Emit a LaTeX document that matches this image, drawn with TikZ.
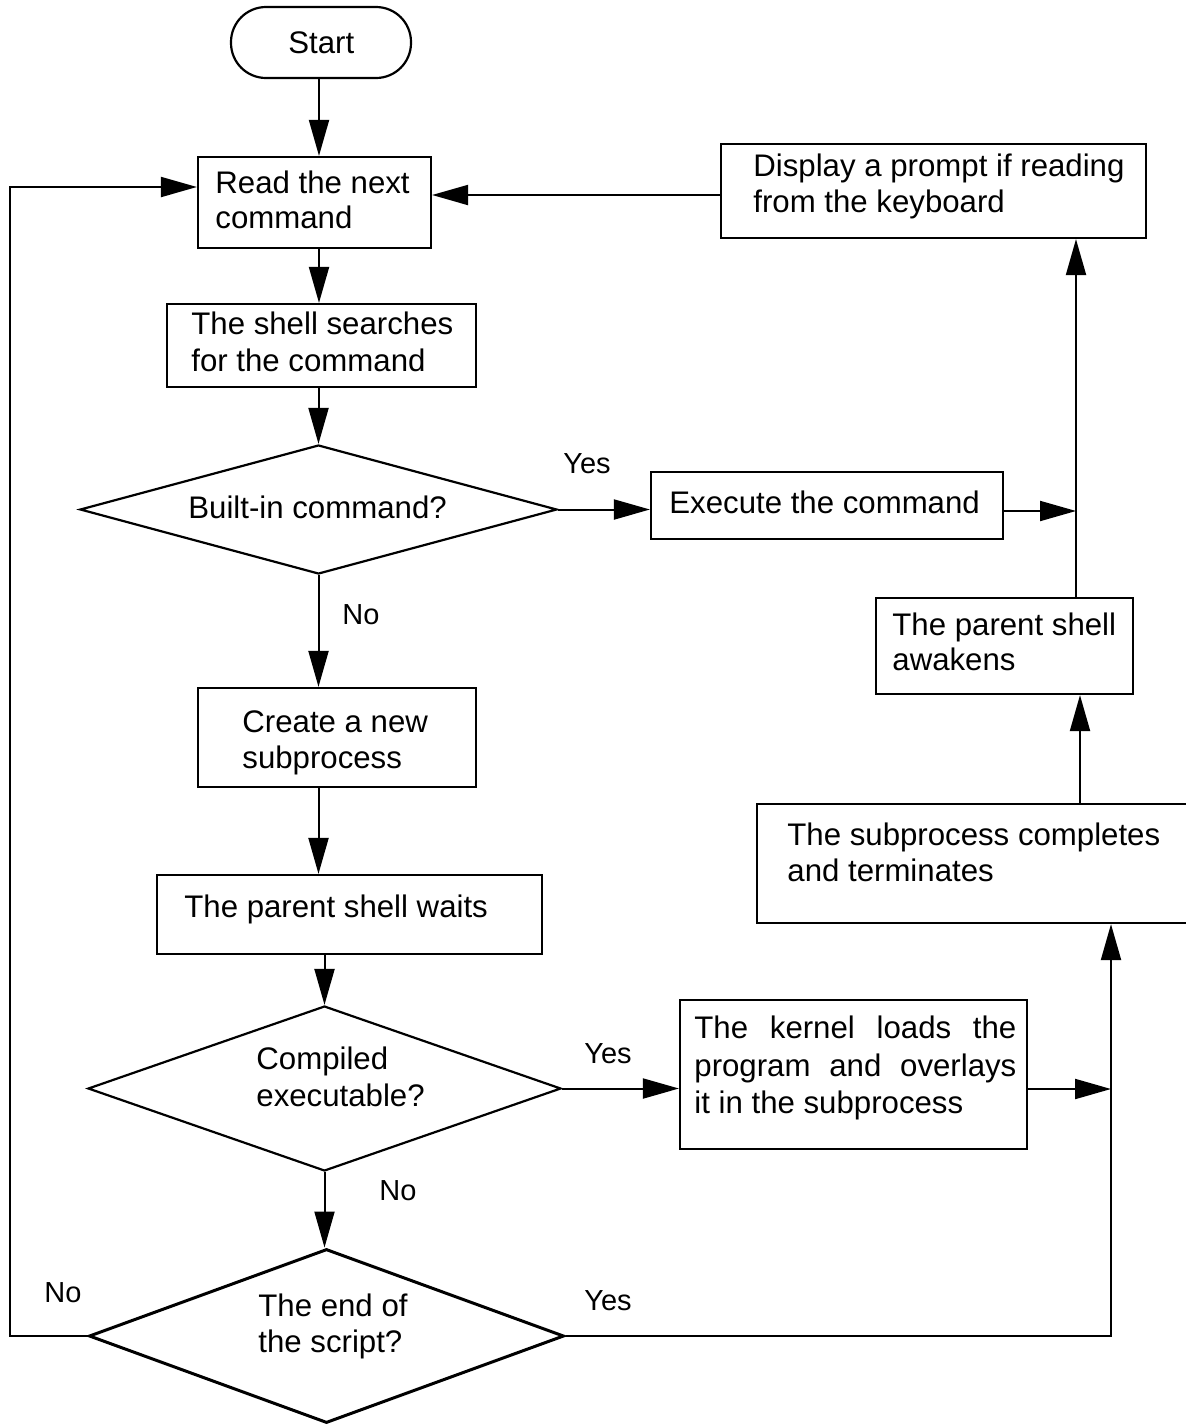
\documentclass[tikz,border=0pt]{standalone}
\usepackage{fontspec}
\setmainfont{Liberation Sans}
\usetikzlibrary{shapes.geometric,arrows.meta}
\begin{document}
\begin{tikzpicture}[x=0.5pt,y=-0.5pt,
  box/.style={draw,line width=1.1pt,inner sep=0pt,rectangle},
  dec/.style={draw,line width=1.1pt,diamond,inner sep=0pt},
  arr/.style={line width=1pt,-{Triangle[length=18pt,width=10pt]}},
  txt/.style={anchor=base west,inner sep=0pt,font=\fontsize{15.6pt}{18pt}\selectfont},
  lab/.style={anchor=base west,inner sep=0pt,font=\fontsize{14.5pt}{17pt}\selectfont}]
\useasboundingbox (0,0) rectangle (1186,1425);
\fill[white] (0,0) rectangle (1186,1425);

% shapes
\node[box,rounded corners=17.5pt,minimum width=90pt,minimum height=35.5pt] (start) at (321,42.5) {};
\node[box,minimum width=116.5pt,minimum height=45.5pt] (read) at (314.5,202.5) {};
\node[box,minimum width=154.5pt,minimum height=41.5pt] (shell) at (321.5,345.5) {};
\node[box,minimum width=212.5pt,minimum height=47pt] (display) at (933.5,191) {};
\node[box,minimum width=176pt,minimum height=33.5pt] (exec) at (827,505.5) {};
\node[box,minimum width=128.5pt,minimum height=48pt] (parent) at (1004.5,646) {};
\node[box,minimum width=217.5pt,minimum height=59.5pt] (subproc) at (974.5,863.5) {};
\node[box,minimum width=139pt,minimum height=49.5pt] (create) at (337,737.5) {};
\node[box,minimum width=192.5pt,minimum height=39.5pt] (waits) at (349.5,914.5) {};
\node[box,minimum width=173.5pt,minimum height=74.5pt] (kernel) at (853.5,1074.5) {};
\node[dec,minimum width=238.5pt,minimum height=64.5pt] (d1) at (318.5,509.5) {};
\node[dec,minimum width=236.5pt,minimum height=82.5pt] (d2) at (324.5,1088.5) {};
\node[dec,line width=1.5pt,minimum width=237.5pt,minimum height=87pt] (d3) at (326.5,1336) {};

% texts
\node[txt] (tstart) at (288,53) {Start};
\node[txt] (tread1) at (215,193) {Read the next};
\node[txt] (tread2) at (215,228) {command};
\node[txt] (tdisp1) at (753,176) {Display a prompt if reading};
\node[txt] (tdisp2) at (753,212) {from the keyboard};
\node[txt] (tshell1) at (191,334) {The shell searches};
\node[txt] (tshell2) at (191,371) {for the command};
\node[txt] (tbuilt) at (188,518) {Built-in command?};
\node[txt] (texec) at (669,513) {Execute the command};
\node[txt] (tpar1) at (892,635) {The parent shell};
\node[txt] (tpar2) at (892,670) {awakens};
\node[txt] (tcre1) at (242,732) {Create a new};
\node[txt] (tcre2) at (242,768) {subprocess};
\node[txt] (tsub1) at (787,845) {The subprocess completes};
\node[txt] (tsub2) at (787,881) {and terminates};
\node[txt] (twait) at (184,917) {The parent shell waits};
\node[txt] (tcomp1) at (256,1069) {Compiled};
\node[txt] (tcomp2) at (256,1106) {executable?};
\node[txt] (tker1) at (694,1038) {\makebox[161pt][s]{The kernel loads the}};
\node[txt] (tker2) at (694,1076) {\makebox[161pt][s]{program and overlays}};
\node[txt] (tker3) at (694,1113) {it in the subprocess};
\node[txt] (tend1) at (258,1316) {The end of};
\node[txt] (tend2) at (258,1352) {the script?};

% labels
\node[lab] (lyes1) at (563,473) {Yes};
\node[lab] (lno1) at (342,624) {No};
\node[lab] (lyes2) at (584,1063) {Yes};
\node[lab] (lno2) at (379,1200) {No};
\node[lab] (lno3) at (44,1302) {No};
\node[lab] (lyes3) at (584,1310) {Yes};

% helper coordinates
\coordinate (ca) at (319,0);
\coordinate (ja) at (1076,511);
\coordinate (jb) at (1080,0);
\coordinate (jc) at (1111,1089);
\coordinate (ra) at (0,195);
\coordinate (lp) at (10,187);

% connectors
\draw[arr] (start.south -| ca) -- (read.north -| ca);
\draw[arr] (read.south -| ca) -- (shell.north -| ca);
\draw[arr] (shell.south -| d1.north) -- (d1.north);
\draw[arr] (d1.south) -- (d1.south |- create.north);
\draw[arr] (create.south -| d1.south) -- (waits.north -| d1.south);
\draw[arr] (waits.south -| d2.north) -- (d2.north);
\draw[arr] (d2.south) -- (d2.south |- d3.north);
\draw[arr] (d1.east) -- (d1.east -| exec.west);
\draw[arr] (exec.east |- ja) -- (ja);
\draw[arr] (parent.north -| ja) -- (display.south -| ja);
\draw[arr] (subproc.north -| jb) -- (parent.south -| jb);
\draw[arr] (d2.east) -- (d2.east -| kernel.west);
\draw[arr] (kernel.east |- jc) -- (jc);
\draw[arr] (d3.east) -| (subproc.south -| jc);
\draw[arr] (display.west |- ra) -- (read.east |- ra);
\draw[arr] (d3.west) -| (lp) -- (read.west |- lp);
\end{tikzpicture}
\end{document}
